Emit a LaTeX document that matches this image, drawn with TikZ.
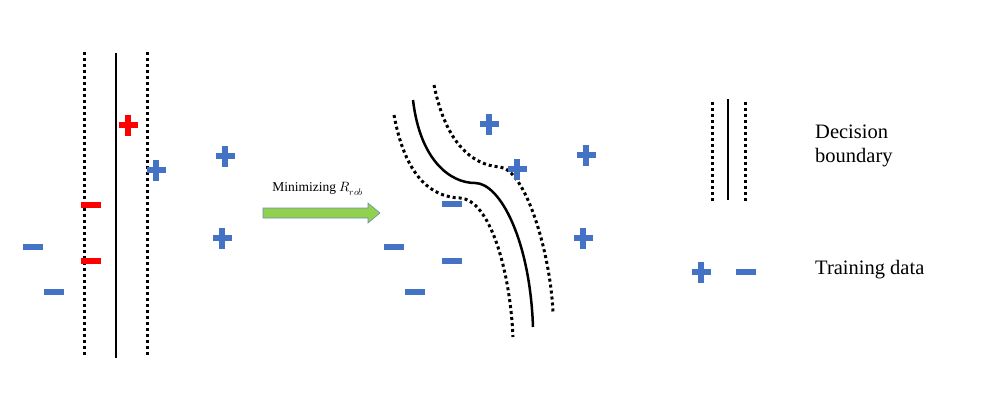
\documentclass[tikz,border=0pt]{standalone}
\usepackage{fontspec}
\setmainfont{Liberation Serif}
\usepackage{unicode-math}
\begin{document}
\begin{tikzpicture}[x=1pt,y=-1pt,
  dotline/.style={line width=3pt,dash pattern=on 3pt off 3pt},
  solidline/.style={line width=2.5pt},
  ptblue/.style={color={rgb,255:red,68;green,114;blue,196}},
  ptred/.style={color={rgb,255:red,255;green,0;blue,0}},
  pplus/.pic={\fill (-9.5,-2.7) rectangle (9.5,2.7); \fill (-2.7,-10.5) rectangle (2.7,10.5);},
  pminus/.pic={\fill (-10,-2.8) rectangle (10,2.8);},
  lbl/.style={inner sep=0pt,anchor=west,font=\fontsize{20.5}{24}\selectfont}]
\useasboundingbox (0,0) rectangle (982,405);
% left panel
\draw[dotline] (84,52) -- (84,357);
\draw[solidline] (116,53) -- (116,358);
\draw[dotline] (147,52) -- (147,357);
\pic[ptred] at (128,125) {pplus};
\pic[ptblue] at (156,170) {pplus};
\pic[ptblue] at (225,156) {pplus};
\pic[ptblue] at (222,238) {pplus};
\pic[ptred] at (91,205) {pminus};
\pic[ptred] at (91,261) {pminus};
\pic[ptblue] at (33,247) {pminus};
\pic[ptblue] at (54,292) {pminus};
% arrow
\filldraw[fill={rgb,255:red,146;green,208;blue,80},draw={rgb,255:red,110;green,140;blue,180},line width=0.6pt]
  (263,208) -- (368,208) -- (368,203) -- (380,213) -- (368,223) -- (368,218) -- (263,218) -- cycle;
\node[inner sep=0pt,font=\fontsize{13.5}{15}\selectfont] (lab) at (318,189) {Minimizing $R_{rob}$};
% right panel
\draw[solidline] (413,100) .. controls (420,160) and (450,183) .. (475,183) .. controls (500,183) and (530,240) .. (533,327);
\draw[dotline] (394,115) .. controls (405,175) and (430,197) .. (460,198) .. controls (490,200) and (510,270) .. (513,337);
\draw[dotline] (434,85) .. controls (445,140) and (470,165) .. (500,167) .. controls (525,170) and (550,250) .. (553,312);
\pic[ptblue] at (489,124) {pplus};
\pic[ptblue] at (517,169) {pplus};
\pic[ptblue] at (586,155) {pplus};
\pic[ptblue] at (583,238) {pplus};
\pic[ptblue] at (452,204) {pminus};
\pic[ptblue] at (394,247) {pminus};
\pic[ptblue] at (452,261) {pminus};
\pic[ptblue] at (415,292) {pminus};
% legend
\draw[dotline] (712,102) -- (712,202);
\draw[solidline] (728,99) -- (728,200);
\draw[dotline] (745,102) -- (745,202);
\node[lbl,align=left] (db) at (815,146) {Decision\\boundary};
\pic[ptblue] at (701,272) {pplus};
\pic[ptblue] at (746,272) {pminus};
\node[lbl] (td) at (815,270) {Training data};
\end{tikzpicture}
\end{document}
